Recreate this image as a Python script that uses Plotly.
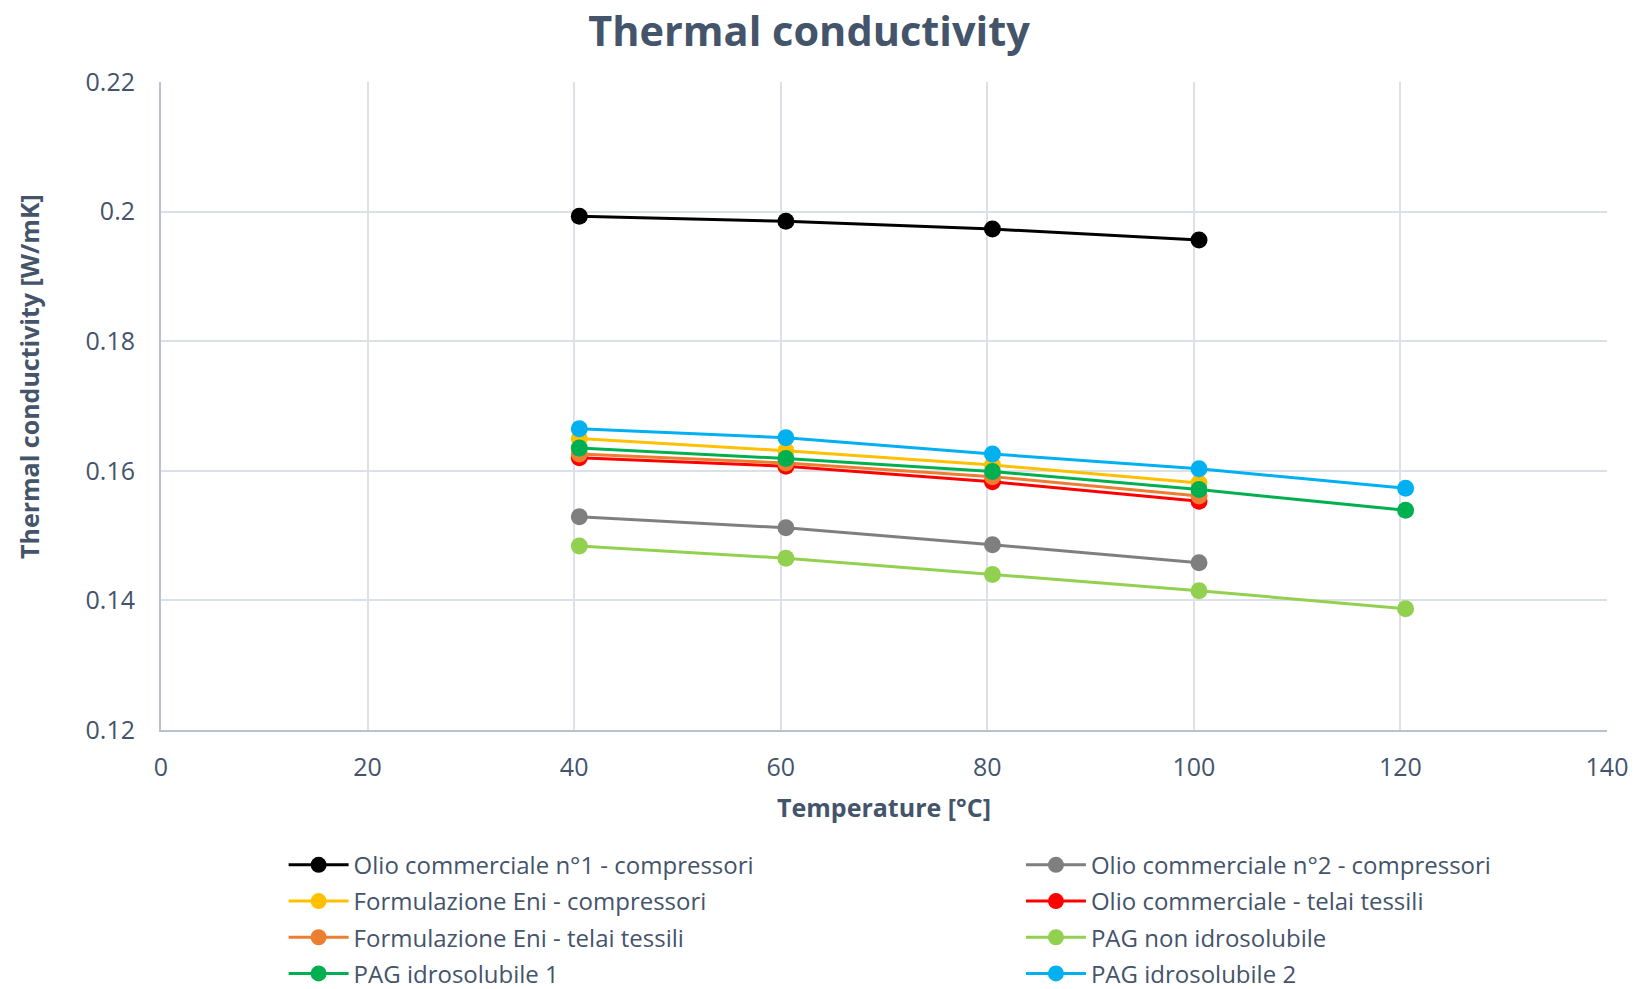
import plotly.graph_objects as go

temps4 = [40.5, 60.5, 80.5, 100.5]
temps5 = [40.5, 60.5, 80.5, 100.5, 120.5]

names = [
    "Olio commerciale n°1 - compressori",
    "Olio commerciale n°2 - compressori",
    "Formulazione Eni - compressori",
    "Olio commerciale - telai tessili",
    "Formulazione Eni - telai tessili",
    "PAG non idrosolubile",
    "PAG idrosolubile 1",
    "PAG idrosolubile 2",
]
olio1 = [0.1993, 0.1985, 0.1973, 0.1956]
olio2 = [0.1529, 0.1512, 0.1486, 0.1458]
eni_comp = [0.1650, 0.1631, 0.1609, 0.1581]
olio_telai = [0.1620, 0.1607, 0.1583, 0.1553]
eni_telai = [0.1626, 0.1612, 0.1591, 0.1561]
pag_non = [0.1484, 0.1465, 0.1440, 0.1415, 0.1387]
pag_1 = [0.1635, 0.1619, 0.1599, 0.1571, 0.1539]
pag_2 = [0.1665, 0.1651, 0.1626, 0.1603, 0.1573]

series_x = [temps4, temps4, temps4, temps4, temps4, temps5, temps5, temps5]
series_y = [olio1, olio2, eni_comp, olio_telai, eni_telai, pag_non, pag_1, pag_2]
colors = ["#000000", "#7F7F7F", "#FFC000", "#FF0000", "#ED7D31", "#92D050", "#00B050", "#00B0F0"]

FONT = "Open Sans"
TXT = "#44546A"

fig = go.Figure()
for i, (n, xs, ys, c) in enumerate(zip(names, series_x, series_y, colors)):
    fig.add_trace(go.Scatter(
        x=xs, y=ys, name=n, mode="lines+markers",
        line=dict(color=c, width=3),
        marker=dict(color=c, size=17),
        legend="legend" if i % 2 == 0 else "legend2",
        legendgroup=f"g{i}",
    ))

leg_common = dict(orientation="v", y=-0.174, yanchor="top", xanchor="left",
                  font=dict(size=24, color=TXT), itemwidth=60,
                  bgcolor="rgba(0,0,0,0)", tracegroupgap=2)

fig.update_layout(
    width=1636, height=989,
    paper_bgcolor="white", plot_bgcolor="white",
    margin=dict(l=161, r=29, t=82, b=259, autoexpand=False),
    font=dict(family=FONT, color=TXT, size=24),
    title=dict(text="<b>Thermal conductivity</b>", x=0.4945, xanchor="center",
               y=1 - 31 / 989, yanchor="middle", font=dict(size=41.5, color=TXT, family=FONT)),
    xaxis=dict(range=[0, 140], dtick=20, tick0=0, showgrid=True, gridcolor="#DCE1E8",
               gridwidth=1.5, showline=True, linecolor="#B8C2CF", linewidth=2,
               zeroline=False, ticks="", ticklabelstandoff=14,
               tickfont=dict(size=25, color=TXT),
               title=dict(text="<b>Temperature [°C]</b>", font=dict(size=25, color=TXT), standoff=17)),
    yaxis=dict(range=[0.12, 0.22], dtick=0.02, showgrid=True, gridcolor="#DCE1E8",
               gridwidth=1.5, showline=True, linecolor="#B8C2CF", linewidth=2,
               zeroline=False, ticks="", ticklabelstandoff=19,
               tickfont=dict(size=25, color=TXT), tickformat="~g"),
    annotations=[dict(text="<b>Thermal conductivity [W/mK]</b>", textangle=-90,
                      xref="paper", yref="paper", x=-(161 - 29) / 1446, y=0.5 + 29 / 648,
                      xanchor="center", yanchor="middle", showarrow=False,
                      font=dict(size=25, color=TXT, family=FONT))],
    legend=dict(x=0.0848, **leg_common),
    legend2=dict(x=0.5947, **leg_common),
)

fig.write_html("out.html")
